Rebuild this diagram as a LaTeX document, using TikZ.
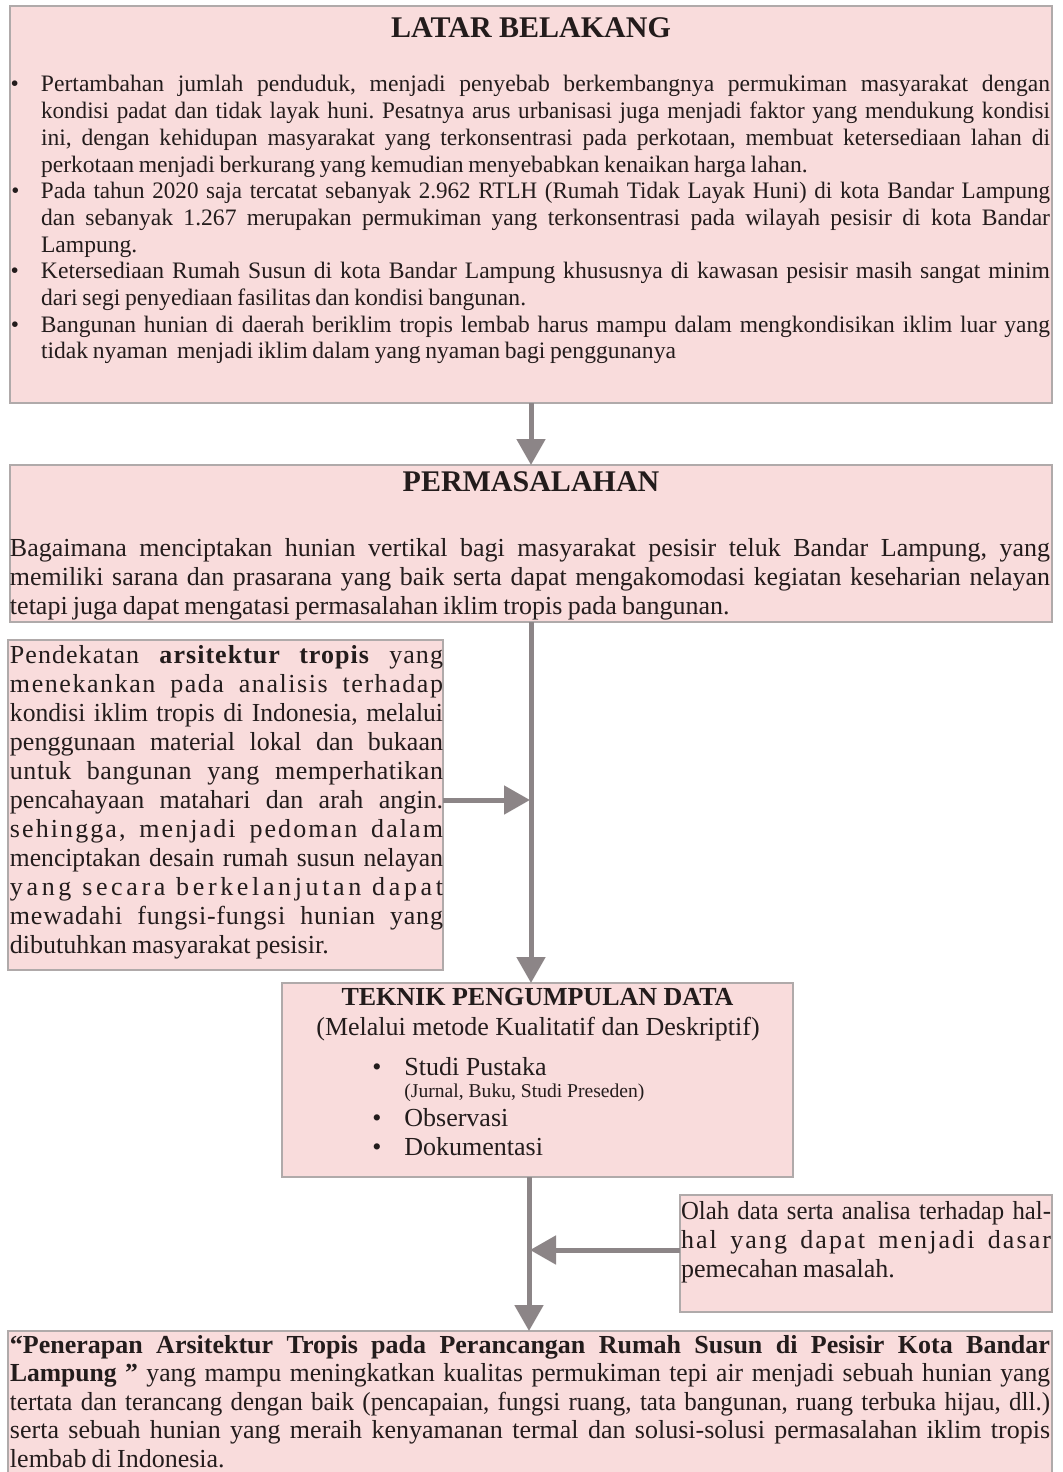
\documentclass[tikz,border=0pt]{standalone}
\usepackage{fontspec}
\setmainfont{Liberation Serif}
\usepackage{graphicx}
\usetikzlibrary{arrows.meta,fit}
\definecolor{boxfill}{RGB}{249,220,220}
\definecolor{boxline}{RGB}{176,170,170}
\definecolor{arrgray}{RGB}{140,133,135}
\definecolor{txt}{RGB}{35,28,28}
\newsavebox\lnbox
\newdimen\lnw
\newcommand\jline[1]{\sbox\lnbox{\frenchspacing\strut#1}\lnw=\wd\lnbox
  \ifdim\lnw>\hsize\pgfmathsetmacro\lnr{\the\hsize/\the\lnw}\scalebox{\lnr}[1]{\usebox\lnbox}\par
  \else\hbox to\hsize{\frenchspacing\spaceskip=0.25em plus 1fil\relax\strut#1}\fi}
\newcommand\pline[1]{\hbox to\hsize{\spaceskip=0.2em plus 0.05em\relax\strut#1\hfil}}
\newcommand\bul{\llap{•\hspace{11pt}}}
\newcommand\lsp[2]{{\addfontfeature{LetterSpace=#1}#2}}
\tikzset{
  box/.style={draw=boxline, fill=boxfill, line width=0.75pt, inner sep=0pt, outer sep=0pt},
  arr/.style={draw=arrgray, line width=2.5pt, -{Triangle[width=14pt,length=13pt]}},
  body/.style={inner sep=0pt, outer sep=0pt, anchor=north west, text=txt},
  ttl/.style={inner sep=0pt, anchor=base, text=txt, font=\bfseries\fontsize{15}{18}\selectfont},
  item/.style={inner sep=0pt, anchor=base west, text=txt, font=\fontsize{13}{15}\selectfont},
}
\begin{document}
\begin{tikzpicture}[x=0.5pt, y=-0.5pt]
\useasboundingbox (0,0) rectangle (1062,1472);
\fill[white] (0,0) rectangle (1062,1472);
% boxes
\node[box, fit={(10,6) (1052,403)}] (lb) {};
\node[box, fit={(10,465) (1052,622)}] (pm) {};
\node[box, fit={(8,640) (443,970)}] (lt) {};
\node[box, fit={(282,983) (793,1177)}] (tk) {};
\node[box, fit={(680,1195) (1052,1312)}] (ol) {};
\node[box, fit={(8,1331) (1052,1500)}] (bt) {};
% coordinates for connector ends
\coordinate (h3) at (530,800);
\coordinate (v4) at (529,0);
\coordinate (h5) at (530,1250);
% connectors
\draw[arr] (lb.south) -- (pm.north);
\draw[arr] (pm.south) -- (pm.south |- tk.north);
\draw[arr] (lt.east |- h3) -- (h3);
\draw[arr] (tk.south -| v4) -- (bt.north -| v4);
\draw[arr] (ol.west |- h5) -- (h5);
% LATAR BELAKANG
\node[ttl] (lbt) at (531,37) {LATAR BELAKANG};
\node[body, text width=504.5pt, font=\fontsize{11.8}{13.35}\selectfont] (lbx) at (41,73.3) {%
\jline{\bul Pertambahan jumlah penduduk, menjadi penyebab berkembangnya permukiman masyarakat dengan}
\jline{kondisi padat dan tidak layak huni. Pesatnya arus urbanisasi juga menjadi faktor yang mendukung kondisi}
\jline{ini, dengan kehidupan masyarakat yang terkonsentrasi pada perkotaan, membuat ketersediaan lahan di}
\pline{perkotaan menjadi berkurang yang kemudian menyebabkan kenaikan harga lahan.}
\jline{\bul Pada tahun 2020 saja tercatat sebanyak 2.962 RTLH (Rumah Tidak Layak Huni) di kota Bandar Lampung}
\jline{dan sebanyak 1.267 merupakan permukiman yang terkonsentrasi pada wilayah pesisir di kota Bandar}
\pline{Lampung.}
\jline{\bul Ketersediaan Rumah Susun di kota Bandar Lampung khususnya di kawasan pesisir masih sangat minim}
\pline{dari segi penyediaan fasilitas dan kondisi bangunan.}
\jline{\bul Bangunan hunian di daerah beriklim tropis lembab harus mampu dalam mengkondisikan iklim luar yang}
\pline{tidak nyaman\ \ menjadi iklim dalam yang nyaman bagi penggunanya}};
% PERMASALAHAN
\node[ttl] (pmt) at (531,491) {PERMASALAHAN};
\node[body, text width=520pt, font=\fontsize{13}{14.5}\selectfont] (pmx) at (10,536.2) {%
\jline{Bagaimana menciptakan hunian vertikal bagi masyarakat pesisir teluk Bandar Lampung, yang}
\jline{memiliki sarana dan prasarana yang baik serta dapat mengakomodasi kegiatan keseharian nelayan}
\pline{tetapi juga dapat mengatasi permasalahan iklim tropis pada bangunan.}};
% left box
\node[body, text width=216.5pt, font=\fontsize{13}{14.5}\selectfont] (ltx) at (10,643.2) {%
\jline{\lsp{4}{Pendekatan \textbf{arsitektur tropis} yang}}
\jline{\lsp{6}{menekankan pada analisis terhadap}}
\jline{kondisi iklim tropis di Indonesia, melalui}
\jline{penggunaan material lokal dan bukaan}
\jline{\lsp{2}{untuk bangunan yang memperhatikan}}
\jline{pencahayaan matahari dan arah angin.}
\jline{\lsp{8}{sehingga, menjadi pedoman dalam}}
\jline{menciptakan desain rumah susun nelayan}
\jline{\lsp{14}{yang secara berkelanjutan dapat}}
\jline{\lsp{3}{mewadahi fungsi-fungsi hunian yang}}
\pline{dibutuhkan masyarakat pesisir.}};
% TEKNIK
\node[ttl, font=\bfseries\fontsize{13}{15}\selectfont] (tkt) at (537.5,1005.5) {TEKNIK PENGUMPULAN DATA};
\node[item, anchor=base] (tks) at (538,1035) {(Melalui metode Kualitatif dan Deskriptif)};
\node[item] (tk1) at (404,1075) {\llap{•\hspace{11.5pt}}Studi Pustaka};
\node[item, font=\fontsize{9.8}{11}\selectfont] (tk1b) at (404,1097) {(Jurnal, Buku, Studi Preseden)};
\node[item] (tk2) at (404,1126) {\llap{•\hspace{11.5pt}}Observasi};
\node[item] (tk3) at (404,1155) {\llap{•\hspace{11.5pt}}Dokumentasi};
% Olah data
\node[body, text width=185pt, font=\fontsize{13}{14.5}\selectfont] (olx) at (681,1199.2) {%
\jline{Olah data serta analisa terhadap hal-}
\jline{\lsp{8}{hal yang dapat menjadi dasar}}
\pline{pemecahan masalah.}};
% bottom
\node[body, text width=520pt, font=\fontsize{13}{14.2}\selectfont] (btx) at (10,1333.6) {%
\jline{\textbf{“Penerapan Arsitektur Tropis pada Perancangan Rumah Susun di Pesisir Kota Bandar}}
\jline{\textbf{Lampung ”} yang mampu meningkatkan kualitas permukiman tepi air menjadi sebuah hunian yang}
\jline{tertata dan terancang dengan baik (pencapaian, fungsi ruang, tata bangunan, ruang terbuka hijau, dll.)}
\jline{serta sebuah hunian yang meraih kenyamanan termal dan solusi-solusi permasalahan iklim tropis}
\pline{lembab di Indonesia.}};
\end{tikzpicture}
\end{document}
